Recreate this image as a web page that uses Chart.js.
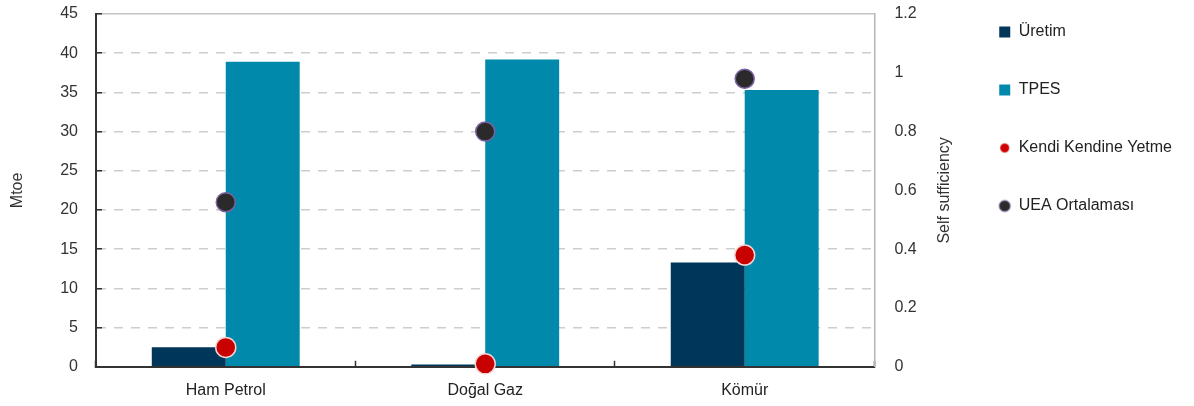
<!DOCTYPE html>
<html lang="tr">
<head>
<meta charset="utf-8">
<title>Üretim, TPES ve kendi kendine yetme</title>
<script src="https://cdn.jsdelivr.net/npm/chart.js@4.4.1/dist/chart.umd.min.js"></script>
<style>
  html, body { margin: 0; padding: 0; background: #fff; }
  #kutu { width: 1194px; height: 406px; }
</style>
</head>
<body>
<div id="kutu"><canvas id="grafik"></canvas></div>
<script>
const kategoriler = ['Ham Petrol', 'Doğal Gaz', 'Kömür'];
const uretim = [2.5, 0.3, 13.3];
const tpes = [38.9, 39.2, 35.3];
const kendiKendineYetme = [0.066, 0.01, 0.38];
const ueaOrtalamasi = [0.56, 0.80, 0.98];
const sagEtiketler = ['0', '0.2', '0.4', '0.6', '0.8', '1', '1.2'];

const yaziTipi = '"Liberation Sans", Arial, sans-serif';
Chart.defaults.font.family = yaziTipi;
Chart.defaults.font.size = 16;
Chart.defaults.color = '#2b2b2b';

// lejant işaretleri (kare / nokta) küçük canvas olarak
function isaret(sekil, boy, dolgu, cizgi) {
    const c = document.createElement('canvas');
    const s = boy + 4;
    c.width = c.height = s;
    const g = c.getContext('2d');
    g.fillStyle = dolgu;
    if (sekil === 'kare') {
        g.fillRect(2, 2, boy, boy);
    } else {
        g.beginPath();
        g.arc(s / 2, s / 2, boy / 2, 0, Math.PI * 2);
        g.fill();
        if (cizgi) { g.strokeStyle = cizgi; g.lineWidth = 1; g.stroke(); }
    }
    return c;
}
const lejantIsaretleri = [
    isaret('kare', 11, '#00365a'),
    isaret('kare', 11, '#0089aa'),
    isaret('nokta', 9, '#d00000'),
    isaret('nokta', 11, '#2a2a2a', '#7c62a0')
];

// dikey eksenlerin üst/alt boşluğu (etiket yarı yüksekliği + biraz)
const dikeyBosluk = s => { s.paddingTop = 14; s.paddingBottom = 10; };

// lejantı yukarı çek + sağ eksen başlığını aşağıdan yukarı yaz
const ekEklenti = {
    id: 'ekEklenti',
    afterLayout(chart) {
        chart.legend.top -= 18;
        chart.legend.bottom -= 18;
    },
    afterDraw(chart) {
        const s = chart.scales.y1;
        const ctx = chart.ctx;
        ctx.save();
        ctx.translate(s.right - 4 - 8, (chart.chartArea.top + chart.chartArea.bottom) / 2);
        ctx.rotate(-Math.PI / 2);
        ctx.font = '16px ' + yaziTipi;
        ctx.fillStyle = '#333';
        ctx.textAlign = 'center';
        ctx.textBaseline = 'middle';
        ctx.fillText('Self sufficiency', 0, 0);
        ctx.restore();
    }
};

new Chart(document.getElementById('grafik'), {
    type: 'bar',
    data: {
        labels: kategoriler,
        datasets: [
            { type: 'bar', label: 'Üretim', data: uretim, backgroundColor: '#00365a', yAxisID: 'y', order: 2, categoryPercentage: 0.57, barPercentage: 1 },
            { type: 'bar', label: 'TPES', data: tpes, backgroundColor: '#0089aa', yAxisID: 'y', order: 2, categoryPercentage: 0.57, barPercentage: 1 },
            { type: 'line', label: 'Kendi Kendine Yetme', data: kendiKendineYetme, yAxisID: 'y1', showLine: false, order: 1, clip: false,
              pointRadius: 10, pointHoverRadius: 10, pointBackgroundColor: '#c80000', pointBorderColor: '#f2d4d4', pointBorderWidth: 1.5 },
            { type: 'line', label: 'UEA Ortalaması', data: ueaOrtalamasi, yAxisID: 'y1', showLine: false, order: 1, clip: false,
              pointRadius: 9.5, pointHoverRadius: 9.5, pointBackgroundColor: '#2a2a2a', pointBorderColor: '#7c62a0', pointBorderWidth: 1.5 }
        ]
    },
    options: {
        responsive: true,
        maintainAspectRatio: false,
        animation: false,
        layout: { padding: { top: 0, right: 12, bottom: -14, left: 0 } },
        plugins: {
            tooltip: { enabled: false },
            legend: {
                position: 'right',
                align: 'start',
                maxWidth: 240,
                labels: {
                    usePointStyle: true,
                    boxWidth: 12,
                    boxHeight: 12,
                    padding: 42,
                    color: '#222',
                    generateLabels(chart) {
                        const items = Chart.defaults.plugins.legend.labels.generateLabels(chart);
                        items.forEach(it => it.pointStyle = lejantIsaretleri[it.datasetIndex]);
                        return items;
                    },
                    sort: (a, b) => a.datasetIndex - b.datasetIndex
                }
            }
        },
        scales: {
            x: {
                offset: true,
                grid: { offset: true, drawOnChartArea: false, tickLength: -6, tickColor: '#333', tickWidth: 1.5 },
                border: { color: '#333', width: 2 },
                ticks: { padding: 20, color: '#222' }
            },
            y: {
                position: 'left',
                min: 0,
                max: 45,
                afterFit: dikeyBosluk,
                ticks: { stepSize: 5, padding: 24, color: '#333' },
                grid: {
                    color: c => !c.tick || c.tick.value === 0 ? 'rgba(0,0,0,0)' : (c.tick.value === 45 ? '#c2c2c2' : '#cdcdcd'),
                    lineWidth: 1.5,
                    tickLength: -6,
                    tickColor: '#333',
                    tickWidth: 1.5
                },
                border: { color: '#333', width: 2, dash: c => (c.tick && c.tick.value === 45) ? [] : [9, 8] },
                title: { display: true, text: 'Mtoe', color: '#333', padding: { top: 8, bottom: 9 } }
            },
            y1: {
                position: 'right',
                min: 0,
                max: 1.2,
                afterFit: dikeyBosluk,
                ticks: { stepSize: 0.2, padding: 20, color: '#333', callback: (v, i) => sagEtiketler[i] },
                grid: { drawOnChartArea: false, drawTicks: false },
                border: { color: '#b5b5b5', width: 1.5 },
                title: { display: true, text: 'Self sufficiency', color: 'rgba(0,0,0,0)', font: { size: 16, lineHeight: 1 }, padding: { top: 4, bottom: 0 } }
            }
        }
    },
    plugins: [ekEklenti]
});
</script>
</body>
</html>
